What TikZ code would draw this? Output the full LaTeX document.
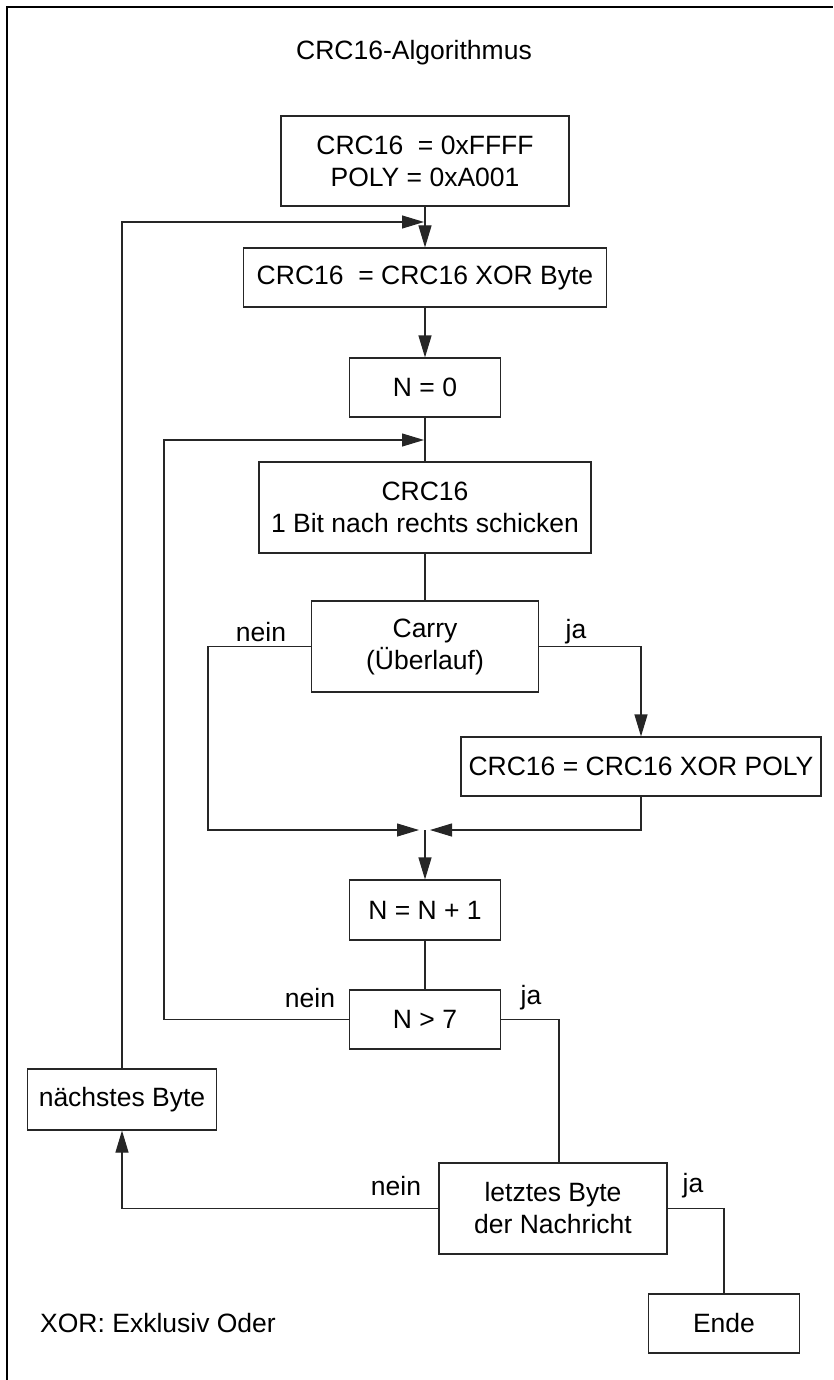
\documentclass[tikz,border=0pt]{standalone}
\usepackage{fontspec}
\setmainfont{Liberation Sans}
\usetikzlibrary{arrows.meta}
\tikzset{
  box/.style={draw=black!85, line width=1.1pt, rectangle, inner sep=0pt, align=center,
    font=\fontsize{26.5}{32}\selectfont},
  lbl/.style={inner sep=0pt, font=\fontsize{26.5}{32}\selectfont},
  con/.style={draw=black!85, line width=1.1pt},
  arr/.style={con, -{Triangle[length=22pt,width=13pt]}},
}
\begin{document}
\begin{tikzpicture}[x=1pt,y=-1pt]
\useasboundingbox (0,0) rectangle (833,1380);
% frame
\draw[line width=2pt] (7,1380) -- (7,7) -- (833,7);
\node[lbl] (title) at (414,53) {CRC16-Algorithmus};
% boxes
\node[box, minimum width=288pt, minimum height=90pt] (b1) at (425,161) {CRC16\ \ = 0xFFFF\\POLY = 0xA001};
\node[box, minimum width=363pt, minimum height=59pt] (b2) at (425,277.5) {CRC16\ \ = CRC16 XOR Byte};
\node[box, minimum width=151pt, minimum height=59pt] (b3) at (425,387.5) {N = 0};
\node[box, minimum width=332pt, minimum height=91pt] (b4) at (425,507.5) {CRC16\\1 Bit nach rechts schicken};
\node[box, minimum width=227pt, minimum height=91pt] (b5) at (425,646.5) {Carry\\(Überlauf)};
\node[box, minimum width=360pt, minimum height=59pt] (b6) at (641,766.5) {CRC16 = CRC16 XOR POLY};
\node[box, minimum width=151pt, minimum height=60pt] (b7) at (425,910) {N = N + 1};
\node[box, minimum width=151pt, minimum height=59pt] (b8) at (425,1019.5) {N > 7};
\node[box, minimum width=189pt, minimum height=61pt] (b9) at (122,1099.5) {nächstes Byte};
\node[box, minimum width=228pt, minimum height=91pt] (b10) at (553,1208.5) {letztes Byte\\der Nachricht};
\node[box, minimum width=151pt, minimum height=59pt] (b11) at (724,1323.5) {Ende};
\node[lbl, anchor=west] (note) at (40,1323) {XOR: Exklusiv Oder};
% labels
\node[lbl] (l1) at (261,632) {nein};
\node[lbl] (l2) at (576,632) {ja};
\node[lbl] (l3) at (310,998) {nein};
\node[lbl] (l4) at (531,998) {ja};
\node[lbl] (l5) at (396,1186) {nein};
\node[lbl] (l6) at (693,1186) {ja};
% junction coordinates
\coordinate (j1) at (424,222);
\coordinate (j2) at (424,440);
\coordinate (mL) at (419,830);
\coordinate (mR) at (430,830);
\coordinate (m) at (425,830);
% connectors
\draw[arr] (b1.south) -- (b2.north);
\draw[arr] (b9.north) |- (j1);
\draw[arr] (b2.south) -- (b3.north);
\draw[con] (b3.south) -- (b4.north);
\draw[arr] (b8.west) -- ++(-185,0) |- (j2);
\draw[con] (b4.south) -- (b5.north);
\draw[arr] (b5.west) -| (208,830) -- (mL);
\draw[arr] (b5.east) -| (b6.north);
\draw[arr] (b6.south) |- (mR);
\draw[arr] (m) -- (b7.north);
\draw[con] (b7.south) -- (b8.north);
\draw[con] (b8.east) -| ([xshift=6pt]b10.north);
\draw[arr] (b10.west) -| (b9.south);
\draw[con] (b10.east) -| (b11.north);
\end{tikzpicture}
\end{document}
